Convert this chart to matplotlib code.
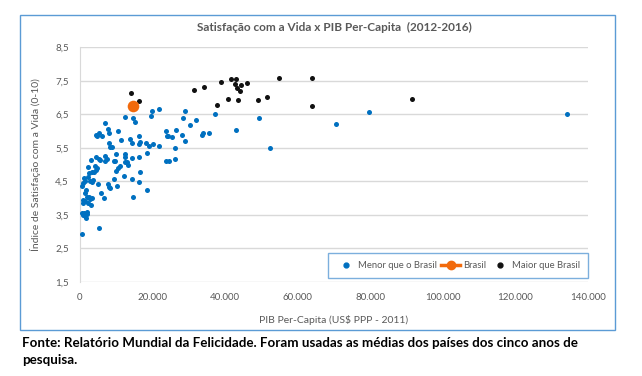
import matplotlib.pyplot as plt
from matplotlib.patches import Rectangle
from matplotlib.lines import Line2D
from matplotlib.ticker import FuncFormatter

# PIB per capita (US$ PPP 2011) e satisfação com a vida - países abaixo do Brasil
menor_pib = [12400, 14690, 15240, 19840, 19560, 21670, 6890, 7810, 7900, 4410,
             5140, 5970, 4680, 10470, 11290, 13680, 14230, 16250, 16530, 16160,
             7900, 8360, 8720, 18180, 19010, 20020, 21860, 23690, 24150, 25250,
             23880, 26540, 26260, 9830, 12490, 12400, 14330, 16160, 18370, 4410,
             5140, 5600, 6800, 7350, 6980, 9460, 2940, 2110, 4220, 4590,
             4500, 3310, 3950, 2480, 9640, 11020, 10470, 10010, 12310, 12950,
             13320, 16440, 12210, 14420, 16350, 9270, 1010, 1380, 730, 2750,
             3310, 3580, 2300, 5050, 7620, 7900, 8360, 10100, 18370, 14690,
             460, 1650, 1290, 1930, 2480, 3210, 920, 730, 1470, 2200,
             2660, 2940, 5790, 6700, 460, 1190, 1380, 1560, 920, 1840,
             2020, 23690, 24520, 26260, 5330, 460, 28930, 28470, 30300, 32050,
             37100, 33520, 33890, 35540, 28930, 28010, 42880, 49400, 52340, 70530,
             79620, 134250]
menor_vida = [6.43, 6.38, 6.26, 6.61, 6.46, 6.66, 6.25, 6.05, 5.96, 5.89,
              5.96, 5.85, 5.85, 6.01, 5.75, 5.76, 5.65, 5.87, 5.67, 5.61,
              5.65, 5.52, 5.52, 5.64, 5.55, 5.63, 5.56, 6.00, 5.85, 5.83,
              5.86, 6.04, 5.51, 5.32, 5.32, 5.24, 5.20, 5.24, 5.34, 5.23,
              5.17, 5.13, 5.26, 5.17, 5.11, 5.12, 5.13, 4.93, 4.97, 4.90,
              4.84, 4.77, 4.79, 4.76, 5.10, 4.96, 4.89, 4.81, 5.07, 5.09,
              5.00, 4.79, 4.66, 4.56, 4.47, 4.58, 4.61, 4.51, 4.44, 4.51,
              4.48, 4.54, 4.62, 4.41, 4.41, 4.32, 4.29, 4.37, 4.23, 4.05,
              4.37, 4.23, 4.15, 4.04, 4.05, 4.02, 3.96, 3.87, 3.93, 3.87,
              3.97, 3.81, 4.15, 4.02, 3.56, 3.57, 3.47, 3.42, 3.50, 3.52,
              3.59, 5.11, 5.11, 5.16, 3.11, 2.92, 6.59, 6.40, 6.19, 6.33,
              6.52, 5.90, 5.95, 5.95, 5.70, 5.88, 6.02, 6.40, 5.49, 6.22,
              6.57, 6.50]

brasil_pib = [14600]
brasil_vida = [6.75]

maior_pib = [31400, 34250, 38850, 41700, 43070, 42600, 44360, 43250, 44000, 45920,
             54900, 64000, 37740, 40860, 43530, 49040, 51600, 63830, 91500, 13960,
             16170]
maior_vida = [7.23, 7.31, 7.47, 7.55, 7.55, 7.40, 7.37, 7.28, 7.20, 7.43,
              7.59, 7.59, 6.79, 6.95, 6.93, 6.93, 7.03, 6.76, 6.97, 7.14,
              6.91]

x_ticks = [0, 20000, 40000, 60000, 80000, 100000, 120000, 140000]
y_ticks = [1.5, 2.5, 3.5, 4.5, 5.5, 6.5, 7.5, 8.5]

azul = '#0070C0'
laranja = '#F26A0C'
preto = '#111111'
cinza = '#595959'

plt.rcParams['font.family'] = ['Lato', 'DejaVu Sans']

fig = plt.figure(figsize=(6.42, 3.76), dpi=100)
ax = fig.add_axes([0.1246, 0.25, 0.7914, 0.624])

# moldura do gráfico
fig.patches.append(Rectangle((0.0312, 0.1223), 0.927, 0.838, transform=fig.transFigure,
                             fill=False, edgecolor='#5B9BD5', linewidth=1.0))

ax.scatter(menor_pib, menor_vida, s=13, color=azul, zorder=3, linewidths=0)
ax.scatter(maior_pib, maior_vida, s=13, color=preto, zorder=3, linewidths=0)
ax.scatter(brasil_pib, brasil_vida, s=70, color=laranja, zorder=4, linewidths=0)

ax.set_xlim(0, 140000)
ax.set_ylim(1.5, 8.5)
ax.set_xticks(x_ticks)
ax.set_yticks(y_ticks)
ax.xaxis.set_major_formatter(FuncFormatter(lambda v, p: f'{int(v):,}'.replace(',', '.')))
ax.yaxis.set_major_formatter(FuncFormatter(lambda v, p: f'{v:.1f}'.replace('.', ',')))
ax.tick_params(length=0, labelsize=7, colors=cinza, pad=8)
ax.grid(axis='y', color='#D9D9D9', linewidth=1.0)
ax.set_axisbelow(True)
for s in ['top', 'right', 'bottom']:
    ax.spines[s].set_visible(False)
ax.spines['left'].set_color('#D9D9D9')

ax.set_title('Satisfação com a Vida x PIB Per-Capita  (2012-2016)', fontsize=8.5,
             fontweight='bold', color=cinza, pad=12)
ax.set_xlabel('PIB Per-Capita (US$ PPP - 2011)', fontsize=7.5, color=cinza, labelpad=9)
ax.set_ylabel('Índice de Satisfação com a Vida (0-10)', fontsize=7.5, color=cinza, labelpad=10)

handles = [
    Line2D([], [], marker='o', linestyle='none', color=azul, markersize=3.5),
    Line2D([], [], marker='o', linestyle='-', color=laranja, markersize=6, linewidth=2.5),
    Line2D([], [], marker='o', linestyle='none', color=preto, markersize=3.5),
]
leg = ax.legend(handles, ['Menor que o Brasil', 'Brasil', 'Maior que Brasil'],
                ncol=3, loc='lower right', bbox_to_anchor=(1.0, 0.017), fontsize=6.8,
                frameon=True, fancybox=False, edgecolor='#5B9BD5', handlelength=2.1,
                columnspacing=0.4, handletextpad=0.25, borderpad=0.85, borderaxespad=0)
leg.get_frame().set_linewidth(1.0)
for t in leg.get_texts():
    t.set_color(cinza)

fig.text(0.034, 0.088, 'Fonte: Relatório Mundial da Felicidade. Foram usadas as médias dos países dos cinco anos de',
         fontsize=9.6, fontweight='bold', color='black', va='center')
fig.text(0.034, 0.043, 'pesquisa.', fontsize=9.6, fontweight='bold', color='black', va='center')

fig.savefig('out.png', dpi=100)
